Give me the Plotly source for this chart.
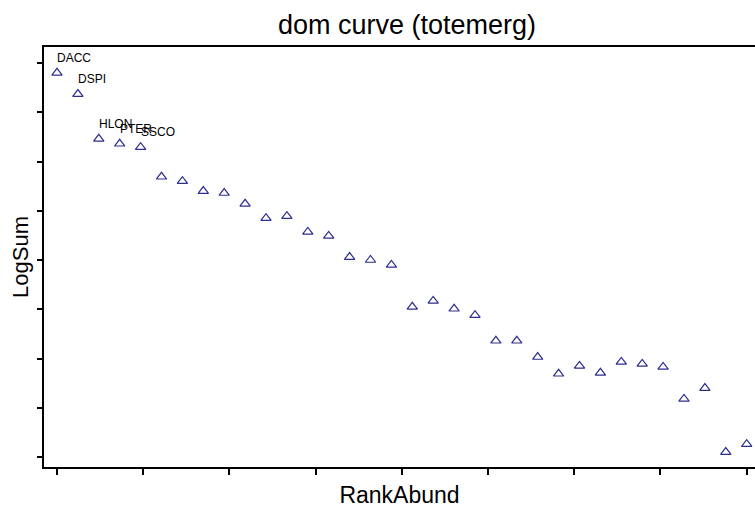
import plotly.graph_objects as go

# Rank / log-sum dominance curve
rank_abund = list(range(1, 35))
log_sum = [7.80, 7.37, 6.46, 6.36, 6.29, 5.69, 5.60, 5.40, 5.36, 5.14,
           4.85, 4.89, 4.57, 4.49, 4.06, 4.00, 3.90, 3.05, 3.17, 3.01,
           2.88, 2.36, 2.36, 2.03, 1.69, 1.85, 1.71, 1.93, 1.89, 1.83,
           1.18, 1.40, 0.10, 0.26]
species_labels = ["DACC", "DSPI", "HLON", "PTER", "SSCO"]

x_ticks = [1 + 33 * k / 8 for k in range(9)]
y_ticks = list(range(0, 9))

FONT = "Liberation Sans, Arial, sans-serif"

fig = go.Figure()
fig.add_trace(go.Scatter(
    x=rank_abund, y=log_sum, mode="markers",
    marker=dict(symbol="triangle-up-open", size=9,
                color="#2e2e8f", line=dict(width=1.2, color="#2e2e8f")),
    hoverinfo="x+y", showlegend=False,
))

for i, name in enumerate(species_labels):
    fig.add_annotation(
        x=rank_abund[i], y=log_sum[i], text=name, showarrow=False,
        xanchor="left", yanchor="middle", xshift=-2, yshift=15,
        font=dict(family=FONT, size=12, color="black"),
    )

fig.update_layout(
    width=755, height=513,
    margin=dict(l=44, r=0, t=47, b=46),
    paper_bgcolor="white", plot_bgcolor="white",
    font=dict(family=FONT, color="black"),
    title=dict(text="dom curve (totemerg)", x=407 / 755, xanchor="center",
               y=1 - 25 / 513, yanchor="middle",
               font=dict(family=FONT, size=27, color="black")),
)
fig.update_xaxes(
    range=[1 - 13 / 20.9, 1 + (755 - 57) / 20.9],
    tickvals=x_ticks, ticktext=[""] * len(x_ticks),
    ticks="outside", ticklen=6, tickwidth=2, tickcolor="black",
    showline=True, linewidth=2, linecolor="black", mirror=True,
    showgrid=False, zeroline=False,
    title=dict(text="RankAbund", font=dict(family=FONT, size=23), standoff=10),
)
fig.update_yaxes(
    range=[-10 / 49.25, 410 / 49.25],
    tickvals=y_ticks, ticktext=[""] * len(y_ticks),
    ticks="outside", ticklen=5, tickwidth=2, tickcolor="black",
    showline=True, linewidth=2, linecolor="black", mirror=False,
    showgrid=False, zeroline=False,
    title=dict(text="LogSum", font=dict(family=FONT, size=22), standoff=0),
)

fig.write_html("out.html")
